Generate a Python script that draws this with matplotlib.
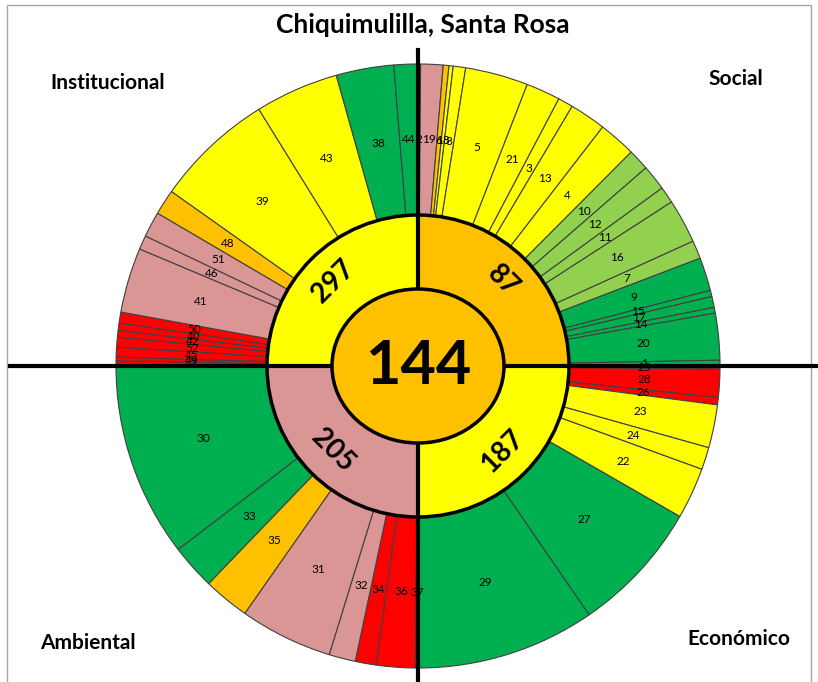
import matplotlib
matplotlib.use('Agg')
import matplotlib.pyplot as plt
from matplotlib.patches import Wedge, Ellipse, Rectangle
import numpy as np

plt.rcParams['font.family'] = ['Lato', 'DejaVu Sans']

title = 'Chiquimulilla, Santa Rosa'
center_value = 144

# quadrants, clockwise from 12 o'clock
dimensions = ['Social', 'Económico', 'Ambiental', 'Institucional']
dimension_values = [87, 187, 205, 297]
dimension_levels = ['O', 'Y', 'P', 'Y']

# outer ring: indicator id, angular weight, level (colour class)
social_ids = [2, 19, 6, 18, 8, 5, 21, 3, 13, 4, 10, 12, 11, 16, 7, 9, 15, 17, 14, 20, 1]
social_weights = [0.5, 4.3, 1.1, 0.8, 2.4, 12.1, 6.6, 2.9, 7.0, 7.2, 4.1, 4.9, 3.2, 8.5,
                  3.5, 6.4, 1.2, 2.1, 1.1, 9.0, 1.1]
social_levels = ['R', 'P', 'O', 'Y', 'Y', 'Y', 'Y', 'Y', 'Y', 'Y', 'LG', 'LG', 'LG', 'LG',
                 'LG', 'G', 'G', 'G', 'G', 'G', 'G']

economico_ids = [25, 28, 26, 23, 24, 22, 27, 29]
economico_weights = [0.6, 5.4, 1.4, 8.3, 4.3, 9.9, 25.6, 34.5]
economico_levels = ['R', 'R', 'R', 'Y', 'Y', 'Y', 'G', 'G']

ambiental_ids = [37, 36, 34, 32, 31, 35, 33, 30]
ambiental_weights = [0.5, 7.5, 4.0, 5.1, 17.9, 8.9, 8.7, 37.4]
ambiental_levels = ['R', 'R', 'R', 'P', 'P', 'O', 'G', 'G']

institucional_ids = [47, 49, 45, 52, 42, 40, 50, 41, 46, 51, 48, 39, 43, 38, 44]
institucional_weights = [1.0, 0.7, 1.9, 1.9, 1.3, 1.4, 2.1, 12.5, 2.7, 4.9, 4.9, 22.9,
                         16.1, 11.1, 4.6]
institucional_levels = ['R', 'R', 'R', 'R', 'R', 'R', 'R', 'P', 'P', 'P', 'O', 'Y', 'Y',
                        'G', 'G']

LEVEL_COLORS = {'R': '#FF0000', 'P': '#D99694', 'O': '#FFC000',
                'Y': '#FFFF00', 'LG': '#92D050', 'G': '#00B050'}

R_OUT = 302
R_MID = 151

fig = plt.figure(figsize=(8.18, 6.82), dpi=100)
ax = fig.add_axes([0, 0, 1, 1])
ax.set_xlim(-418, 400)
ax.set_ylim(-316, 366)
ax.axis('off')

quadrants = [
    (social_ids, social_weights, social_levels),
    (economico_ids, economico_weights, economico_levels),
    (ambiental_ids, ambiental_weights, ambiental_levels),
    (institucional_ids, institucional_weights, institucional_levels),
]

r_lab = (R_OUT + R_MID) / 2
for q, (ids, weights, levels) in enumerate(quadrants):
    start = 90 - 90 * q
    w = np.array(weights, dtype=float)
    spans = 90 * w / w.sum()
    edges = start - np.concatenate([[0], np.cumsum(spans)])
    for i, seg in enumerate(ids):
        t2, t1 = edges[i], edges[i + 1]
        ax.add_patch(Wedge((0, 0), R_OUT, t1, t2, width=R_OUT - R_MID,
                           facecolor=LEVEL_COLORS[levels[i]], edgecolor='#404040',
                           linewidth=0.8, zorder=1))
        mid = np.deg2rad((t1 + t2) / 2)
        ax.text(r_lab * np.cos(mid), r_lab * np.sin(mid), str(seg),
                ha='center', va='center', fontsize=8.5, zorder=2)

    # middle ring (dimension totals)
    ax.add_patch(Wedge((0, 0), R_MID, start - 90, start,
                       facecolor=LEVEL_COLORS[dimension_levels[q]], edgecolor='black',
                       linewidth=2.5, zorder=3))
    a = (start - 45 + 180) % 360 - 180
    rot = a - 90 if a > 0 else a + 90
    ar = np.deg2rad(a)
    ax.text(120 * np.cos(ar), 120 * np.sin(ar), str(dimension_values[q]),
            ha='center', va='center', rotation=rot, rotation_mode='anchor',
            fontsize=20, fontweight='bold', zorder=6)

# crosshair
ax.plot([-408, 400], [0, 0], color='black', linewidth=3, zorder=4)
ax.plot([0, 0], [-316, 316], color='black', linewidth=3, zorder=4)

# centre
ax.add_patch(Ellipse((0, 0), 172, 154, facecolor='#FFC000', edgecolor='black',
                     linewidth=2.5, zorder=5))
ax.text(0, 0, str(center_value), ha='center', va='center', fontsize=44,
        fontweight='bold', zorder=6)

# dimension names in the corners
ax.text(-310, 283, 'Institucional', ha='center', va='center', fontsize=15, fontweight='bold')
ax.text(318, 287, 'Social', ha='center', va='center', fontsize=15, fontweight='bold')
ax.text(-330, -277, 'Ambiental', ha='center', va='center', fontsize=15, fontweight='bold')
ax.text(321, -273, 'Económico', ha='center', va='center', fontsize=15, fontweight='bold')

ax.text(5, 341, title, ha='center', va='center', fontsize=19, fontweight='bold')

# chart border
ax.add_patch(Rectangle((-411, -340), 804, 701, fill=False, edgecolor='#a6a6a6',
                       linewidth=1, zorder=0, clip_on=False))

fig.savefig('out.png', dpi=100)
